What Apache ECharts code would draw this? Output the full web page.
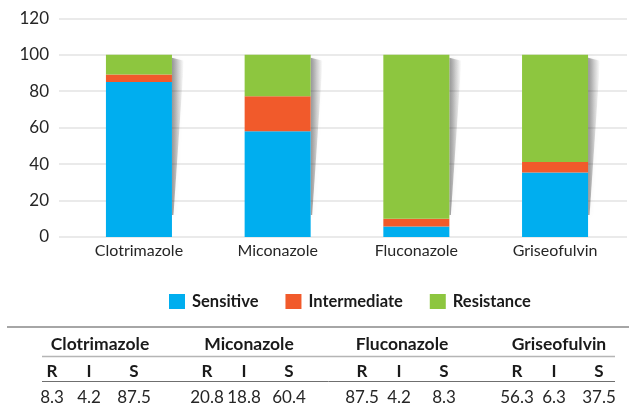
<!DOCTYPE html>
<html>
<head>
<meta charset="utf-8">
<script src="https://cdn.jsdelivr.net/npm/echarts@6/dist/echarts.min.js"></script>
<style>
html,body{margin:0;padding:0;background:#fff;}
#c{width:629px;height:404px;}
</style>
</head>
<body>
<div id="c"></div>
<script>
const categories = ['Clotrimazole', 'Miconazole', 'Fluconazole', 'Griseofulvin'];
const sensitive = [85, 58, 5.7, 35.4];
const intermediate = [4.2, 19.2, 4.3, 5.8];
const resistance = [10.8, 22.8, 90, 58.8];
const seriesNames = ['Sensitive', 'Intermediate', 'Resistance'];
const yMax = 120;
const yStep = 20;
const tableCols = ['R', 'I', 'S'];
const tableR = ['8.3', '20.8', '87.5', '56.3'];
const tableI = ['4.2', '18.8', '4.2', '6.3'];
const tableS = ['87.5', '60.4', '8.3', '37.5'];

const colors = ['#00AEEF', '#F15A2B', '#8DC63F'];
const FONT = 'Lato, "Open Sans", sans-serif';

const chart = echarts.init(document.getElementById('c'), null, {renderer: 'canvas'});

const totals = categories.map((c, i) => [i, sensitive[i] + intermediate[i] + resistance[i]]);
const BAR_FRAC = 0.476;

// table graphics
const graphics = [];
graphics.push({type: 'line', shape: {x1: 7, y1: 327, x2: 629, y2: 327}, style: {stroke: '#a6a6a6', lineWidth: 2}});
graphics.push({type: 'line', shape: {x1: 42, y1: 356.5, x2: 615, y2: 356.5}, style: {stroke: '#b5b5b5', lineWidth: 1.5}});
graphics.push({type: 'line', shape: {x1: 42, y1: 381.5, x2: 615, y2: 381.5}, style: {stroke: '#6f6f6f', lineWidth: 1}});
const nameX = [100, 249, 402, 559];
const colOff = [52, 89, 134];
const groupStep = 155;
const vals = [tableR, tableI, tableS];
categories.forEach((c, g) => {
  graphics.push({type: 'text', x: nameX[g], y: 344, style: {text: c, font: 'bold 17.5px ' + FONT, fill: '#1a1a1a', align: 'center', verticalAlign: 'middle'}});
  tableCols.forEach((h, k) => {
    const x = colOff[k] + groupStep * g;
    graphics.push({type: 'text', x: x, y: 372, style: {text: h, font: 'bold 17px ' + FONT, fill: '#1a1a1a', align: 'center', verticalAlign: 'middle'}});
    graphics.push({type: 'text', x: x, y: 397.5, style: {text: vals[k][g], font: '17px ' + FONT, fill: '#262626', align: 'center', verticalAlign: 'middle'}});
  });
});

const option = {
  animation: false,
  backgroundColor: '#fff',
  textStyle: {fontFamily: FONT},
  grid: [
    {left: 69.6, right: 4.6, top: 18.3, bottom: 167},
    {left: 59, right: 2, top: 18.3, bottom: 167}
  ],
  legend: {
    data: seriesNames,
    left: 164, top: 288,
    itemWidth: 16, itemHeight: 15, itemGap: 27,
    icon: 'rect',
    textStyle: {fontFamily: FONT, fontSize: 16.5, fontWeight: 'bold', color: '#1a1a1a', padding: [0, 0, 0, 2]}
  },
  xAxis: [
    {
      type: 'category', gridIndex: 0, data: categories,
      axisLine: {show: false}, axisTick: {show: false},
      axisLabel: {fontFamily: FONT, fontSize: 16, color: '#262626', margin: 6}
    },
    {type: 'value', gridIndex: 1, show: false, min: 0, max: 1}
  ],
  yAxis: [
    {type: 'value', gridIndex: 0, min: 0, max: yMax, interval: yStep, show: false, splitLine: {show: false}},
    {
      type: 'value', gridIndex: 1, min: 0, max: yMax, interval: yStep,
      axisLine: {show: false}, axisTick: {show: false},
      axisLabel: {fontFamily: FONT, fontSize: 17, color: '#262626', margin: 10},
      splitLine: {show: true, lineStyle: {color: '#e3e3e3', width: 1.5}}
    }
  ],
  series: [
    {
      type: 'custom', xAxisIndex: 0, yAxisIndex: 0, z: 1, silent: true,
      data: totals,
      renderItem: function (params, api) {
        const top = api.coord([api.value(0), api.value(1)]);
        const base = api.coord([api.value(0), 0]);
        const bw = api.size([1, 0])[0] * BAR_FRAC;
        const xr = top[0] + bw / 2;
        return {
          type: 'polygon',
          shape: {points: [[xr, top[1] + 3], [xr + 12, top[1] + 6], [xr + 1.5, base[1] - 22], [xr, base[1] - 22]]},
          style: {
            fill: new echarts.graphic.LinearGradient(0, 0, 1, 0, [
              {offset: 0, color: 'rgba(60,60,60,0.5)'},
              {offset: 0.5, color: 'rgba(60,60,60,0.22)'},
              {offset: 1, color: 'rgba(60,60,60,0)'}
            ]),
            shadowBlur: 5, shadowColor: 'rgba(0,0,0,0.2)'
          }
        };
      }
    },
    {name: seriesNames[0], type: 'bar', stack: 't', data: sensitive, barWidth: (BAR_FRAC * 100) + '%', itemStyle: {color: colors[0]}, z: 2},
    {name: seriesNames[1], type: 'bar', stack: 't', data: intermediate, barWidth: (BAR_FRAC * 100) + '%', itemStyle: {color: colors[1]}, z: 2},
    {name: seriesNames[2], type: 'bar', stack: 't', data: resistance, barWidth: (BAR_FRAC * 100) + '%', itemStyle: {color: colors[2]}, z: 2}
  ],
  graphic: graphics
};
chart.setOption(option);
</script>
</body>
</html>
